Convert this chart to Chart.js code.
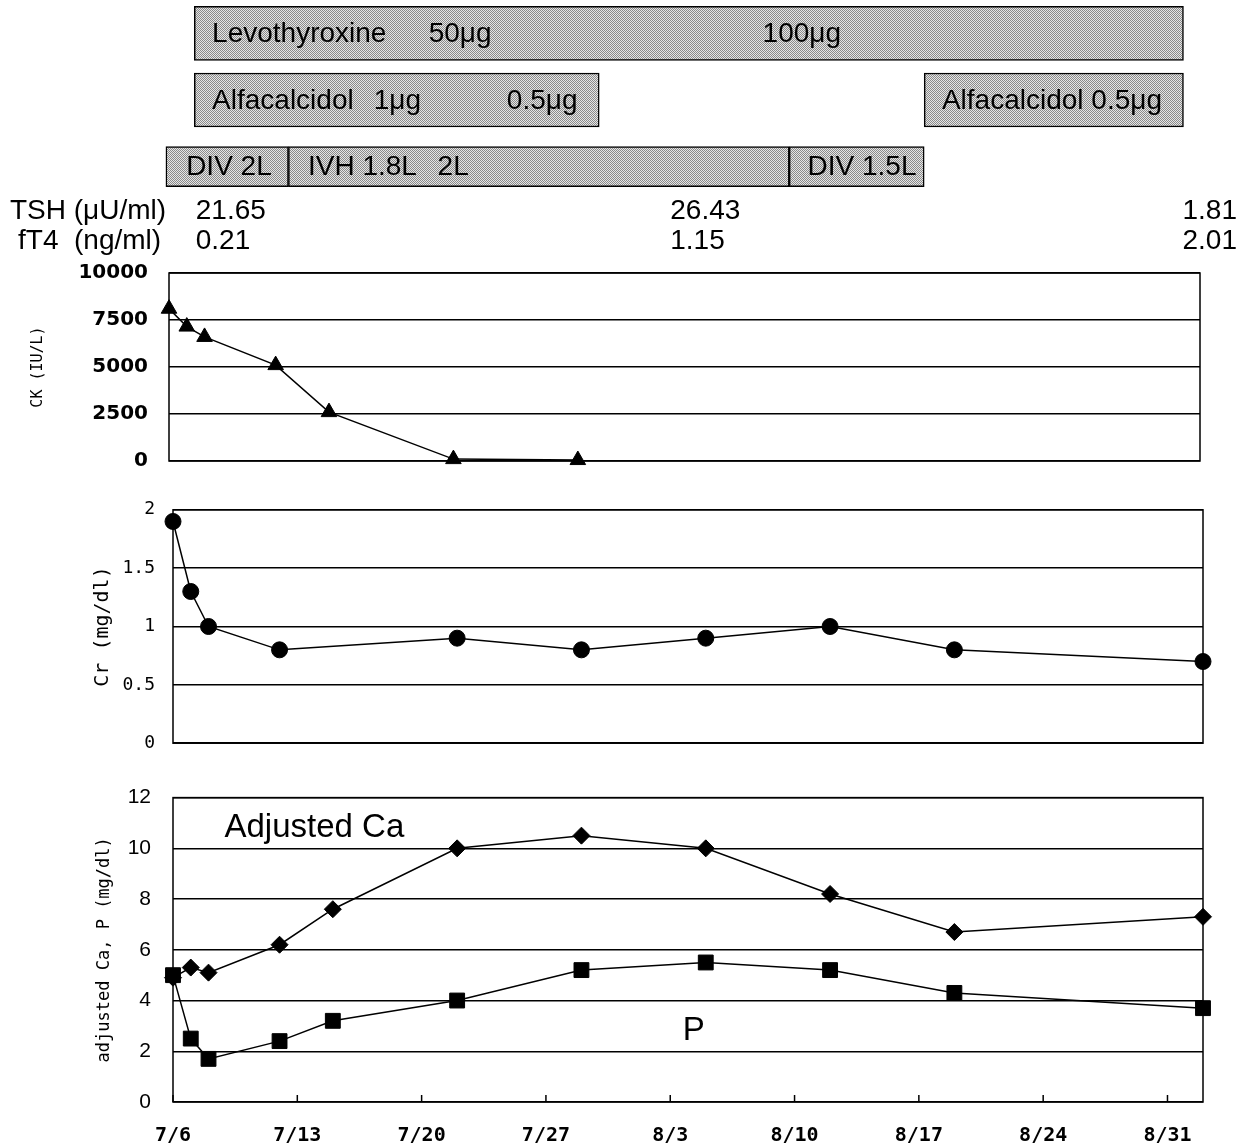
<!DOCTYPE html>
<html>
<head>
<meta charset="utf-8">
<script src="https://cdn.jsdelivr.net/npm/chart.js@4.4.1/dist/chart.umd.min.js"></script>
<style>
  html, body { margin: 0; padding: 0; background: #fff; }
  #wrap { position: relative; width: 1247px; height: 1148px; }
  .box { position: absolute; left: 0; width: 1247px; }
</style>
</head>
<body>
<div id="wrap">
  <div class="box" style="top:0;height:258px"><canvas id="treat"></canvas></div>
  <div class="box" style="top:240px;height:254px"><canvas id="ckChart"></canvas></div>
  <div class="box" style="top:481px;height:291px"><canvas id="crChart"></canvas></div>
  <div class="box" style="top:763px;height:385px"><canvas id="caChart"></canvas></div>
</div>
<script>
// x axis labels, one per week starting 7/6
var tickLabels = ['7/6', '7/13', '7/20', '7/27', '8/3', '8/10', '8/17', '8/24', '8/31'];

// lab values by sampling date
var ckDates = ['7/6', '7/7', '7/8', '7/12', '7/15', '7/22', '7/29'];
var ck = [8100, 7150, 6600, 5100, 2600, 100, 50];
var crDates = ['7/6', '7/7', '7/8', '7/12', '7/22', '7/29', '8/5', '8/12', '8/19', '9/2'];
var cr = [1.9, 1.3, 1.0, 0.8, 0.9, 0.8, 0.9, 1.0, 0.8, 0.7];
var caDates = ['7/6', '7/7', '7/8', '7/12', '7/15', '7/22', '7/29', '8/5', '8/12', '8/19', '9/2'];
var adjCa = [4.9, 5.3, 5.1, 6.2, 7.6, 10.0, 10.5, 10.0, 8.2, 6.7, 7.3];
var phos = [5.0, 2.5, 1.7, 2.4, 3.2, 4.0, 5.2, 5.5, 5.2, 4.3, 3.7];

// treatment periods, in days after 7/6
var treatRows = ['Levothyroxine', 'Alfacalcidol', 'Fluid'];
var levo = [1.2, 56.9];
var alfa1 = [1.2, 24.0];
var alfa2 = [42.3, 56.9];
var div1 = [-0.4, 6.5];
var ivh = [6.5, 34.7];
var div2 = [34.7, 42.3];

// text written inside the treatment bars
var barTexts = ['Levothyroxine', '50\u03bcg', '100\u03bcg', 'Alfacalcidol', '1\u03bcg', '0.5\u03bcg',
  'Alfacalcidol 0.5\u03bcg', 'DIV 2L', 'IVH 1.8L', '2L', 'DIV 1.5L'];
var barTextDays = [2.2, 14.4, 33.2, 2.2, 11.3, 18.8, 43.3, 3.15, 7.6, 14.9, 38.8];
var barTextRows = [0, 0, 0, 1, 1, 1, 1, 2, 2, 2, 2];
var barTextAlign = ['left', 'left', 'left', 'left', 'left', 'left', 'left', 'center', 'left', 'left', 'center'];

// thyroid tests
var thyDates = ['7/7', '8/3', '9/2'];
var tsh = [21.65, 26.43, 1.81];
var ft4 = [0.21, 1.15, 2.01];

// in-plot series names
var seriesNames = ['Adjusted Ca', 'P'];
var nameDays = [2.9, 28.7];
var nameValues = [10.8, 2.8];

function dayOf(s) {
  var p = s.split('/'), m = +p[0], d = +p[1];
  if (m === 7) return d - 6;
  if (m === 8) return d + 25;
  return d + 56;
}
function pts(dates, vals) {
  return vals.map(function (v, i) { return { x: dayOf(dates[i]), y: v }; });
}

var dots = (function () {
  var c = document.createElement('canvas');
  c.width = 2; c.height = 2;
  var g = c.getContext('2d');
  g.fillStyle = '#e6e6e6'; g.fillRect(0, 0, 2, 2);
  g.fillStyle = '#8a8a8a'; g.fillRect(0, 0, 1, 1); g.fillRect(1, 1, 1, 1);
  return g.createPattern(c, 'repeat');
})();

function seg(range, row, thick) {
  return {
    data: treatRows.map(function (r, i) { return i === row ? range : null; }),
    backgroundColor: dots,
    borderColor: '#000',
    borderWidth: 1.5,
    borderSkipped: false,
    barThickness: thick,
    grouped: false,
    clip: false
  };
}

var treatText = {
  id: 'treatText',
  afterDatasetsDraw: function (chart) {
    var ctx = chart.ctx, x = chart.scales.x, y = chart.scales.y, a = chart.chartArea;
    ctx.save();
    ctx.fillStyle = '#000';
    ctx.textBaseline = 'middle';
    ctx.font = '28px "Liberation Sans", Arial, sans-serif';
    barTexts.forEach(function (t, i) {
      ctx.textAlign = barTextAlign[i];
      ctx.fillText(t, x.getPixelForValue(barTextDays[i]), y.getPixelForValue(barTextRows[i]) + 1);
    });
    var r1 = a.bottom + 11, r2 = a.bottom + 41;
    ctx.textAlign = 'left';
    ctx.fillText('TSH (\u03bcU/ml)', 10, r1);
    ctx.fillText('fT4  (ng/ml)', 18, r2);
    thyDates.forEach(function (d, i) {
      var last = i === thyDates.length - 1;
      var px = last ? a.right + 34 : x.getPixelForValue(dayOf(d)) + (i === 0 ? 5 : 0);
      ctx.textAlign = last ? 'right' : 'left';
      ctx.fillText(tsh[i].toFixed(2), px, r1);
      ctx.fillText(ft4[i].toFixed(2), px, r2);
    });
    ctx.restore();
  }
};

var frame = {
  id: 'frame',
  beforeDatasetsDraw: function (chart, args, opts) {
    var a = chart.chartArea, ctx = chart.ctx;
    ctx.save();
    ctx.strokeStyle = '#000';
    ctx.lineWidth = 1.5;
    ctx.strokeRect(a.left, a.top, a.right - a.left, a.bottom - a.top);
    if (opts.inTicks) {
      var xs = chart.scales.x;
      xs.ticks.forEach(function (t) {
        var px = xs.getPixelForValue(t.value);
        ctx.beginPath();
        ctx.moveTo(px, a.bottom);
        ctx.lineTo(px, a.bottom - 7);
        ctx.stroke();
      });
    }
    if (opts.names) {
      ctx.fillStyle = '#000';
      ctx.font = '33px "Liberation Sans", Arial, sans-serif';
      ctx.textAlign = 'left';
      ctx.textBaseline = 'middle';
      seriesNames.forEach(function (n, i) {
        ctx.fillText(n, chart.scales.x.getPixelForValue(nameDays[i]), chart.scales.y.getPixelForValue(nameValues[i]));
      });
    }
    ctx.restore();
  }
};

new Chart(document.getElementById('treat'), {
  type: 'bar',
  data: {
    labels: treatRows,
    datasets: [seg(levo, 0, 54), seg(alfa1, 1, 54), seg(alfa2, 1, 54), seg(div1, 2, 40), seg(ivh, 2, 40), seg(div2, 2, 40)]
  },
  options: {
    indexAxis: 'y',
    responsive: true,
    maintainAspectRatio: false,
    animation: false,
    layout: { padding: { left: 173, right: 44, top: 0, bottom: 58 } },
    plugins: { legend: { display: false }, tooltip: { enabled: false } },
    scales: {
      x: { type: 'linear', display: false, min: 0, max: 58 },
      y: { display: false }
    }
  },
  plugins: [treatText]
});

function xScale(show) {
  return {
    type: 'linear',
    display: show,
    min: 0,
    max: 58,
    grid: { display: false, drawTicks: false },
    border: { display: false },
    ticks: {
      stepSize: 7,
      includeBounds: false,
      autoSkip: false,
      maxRotation: 0,
      padding: 22,
      color: '#000',
      font: { family: '"DejaVu Sans Mono", monospace', size: 20, weight: 'bold' },
      callback: function (v, i) { return tickLabels[i]; }
    },
    afterFit: function (s) { if (show) s.height = 46; }
  };
}

function yScale(max, step, tickFont, tickPad, title, titleFont, titlePad, width) {
  return {
    min: 0,
    max: max,
    grid: { color: '#000', lineWidth: 1.5, drawTicks: false },
    border: { display: false },
    ticks: {
      stepSize: step, color: '#000', padding: tickPad, font: tickFont,
      callback: function (v) { return String(v); }
    },
    title: { display: true, text: title, color: '#000', font: titleFont, padding: { top: titlePad, bottom: 0 } },
    afterFit: function (s) { s.width = width; }
  };
}

function line(data, style, radius) {
  return {
    data: data,
    borderColor: '#000',
    borderWidth: 1.5,
    pointStyle: style,
    pointRadius: radius,
    pointBackgroundColor: '#000',
    pointBorderColor: '#000',
    pointBorderWidth: 1,
    tension: 0,
    clip: false
  };
}

function baseOpts(right, scales, plug) {
  return {
    responsive: true,
    maintainAspectRatio: false,
    animation: false,
    layout: { padding: { left: 0, right: right, top: 0, bottom: 0 } },
    plugins: { legend: { display: false }, tooltip: { enabled: false }, frame: plug },
    scales: scales
  };
}

new Chart(document.getElementById('ckChart'), {
  type: 'line',
  data: { datasets: [line(pts(ckDates, ck), 'triangle', 9)] },
  options: baseOpts(47, {
    x: xScale(false),
    y: yScale(10000, 2500, { family: '"DejaVu Sans", sans-serif', size: 20, weight: 'bold' }, 21,
      'CK (IU/L)', { family: '"DejaVu Sans Mono", monospace', size: 15 }, 29, 169)
  }, {}),
  plugins: [frame]
});

new Chart(document.getElementById('crChart'), {
  type: 'line',
  data: { datasets: [line(pts(crDates, cr), 'circle', 8)] },
  options: baseOpts(44, {
    x: xScale(false),
    y: yScale(2, 0.5, { family: '"DejaVu Sans Mono", monospace', size: 18 }, 18,
      'Cr (mg/dl)', { family: '"DejaVu Sans Mono", monospace', size: 20 }, 91, 173)
  }, {}),
  plugins: [frame]
});

new Chart(document.getElementById('caChart'), {
  type: 'line',
  data: { datasets: [line(pts(caDates, phos), 'rect', 10.5), line(pts(caDates, adjCa), 'rectRot', 8.5)] },
  options: baseOpts(44, {
    x: xScale(true),
    y: yScale(12, 2, { family: '"Liberation Sans", Arial, sans-serif', size: 21 }, 22,
      'adjusted Ca, P (mg/dl)', { family: '"DejaVu Sans Mono", monospace', size: 17 }, 94, 173)
  }, { inTicks: true, names: true }),
  plugins: [frame]
});
</script>
</body>
</html>
